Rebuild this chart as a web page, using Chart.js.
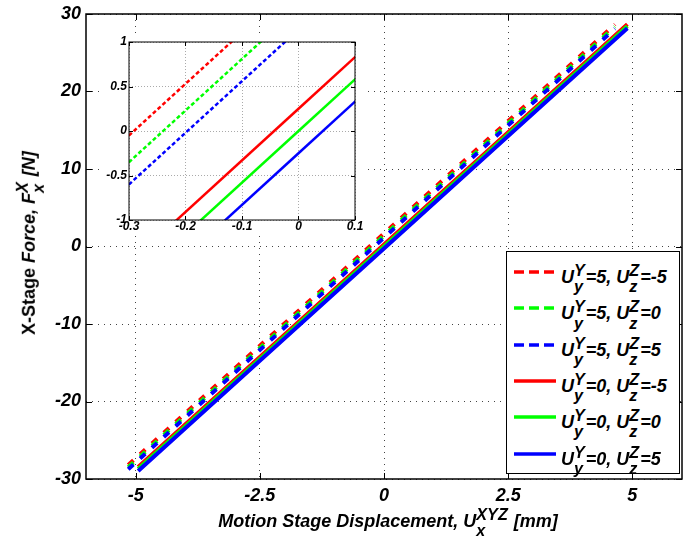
<!DOCTYPE html>
<html>
<head>
<meta charset="utf-8">
<script src="https://cdn.jsdelivr.net/npm/chart.js@4"></script>
<style>
body { margin: 0; background: #fff; font-family: 'Liberation Sans', Arial, sans-serif; }
#wrap { position: relative; width: 692px; height: 539px; overflow: hidden; }
#main { position: absolute; left: 0; top: 0; }
#insetBox { position: absolute; left: 100px; top: 33px; width: 265px; height: 201px; background: #fff; }
#legend { position: absolute; left: 506px; top: 251px; width: 172px; height: 221px; border: 1px solid #000; background: #fff; }
.row { position: absolute; left: 0; width: 172px; height: 36px; }
.row svg { position: absolute; left: 7px; top: 15px; }
.row .lbl { position: absolute; left: 54px; top: 8px; font: italic bold 18px 'Liberation Sans', Arial, sans-serif; line-height: 20px; white-space: nowrap; }
.ss { display: inline-flex; flex-direction: column; vertical-align: middle; font-size: 0.9em; line-height: 1em; margin-right: 1px; }
#xTitle { position: absolute; left: 388px; top: 506px; transform: translateX(-50%); font: italic bold 18px 'Liberation Sans', Arial, sans-serif; white-space: nowrap; line-height: 20px; }
#yTitle { position: absolute; left: 30px; top: 243px; transform: translate(-50%, -50%) rotate(-90deg); font: bold 18px 'Liberation Sans', Arial, sans-serif; white-space: nowrap; line-height: 20px; }
#yTitle i { font-style: italic; }
</style>
</head>
<body>
<div id="wrap">
  <canvas id="main" width="692" height="539"></canvas>
  <div id="insetBox"><canvas id="inset" width="265" height="201"></canvas></div>
  <div id="legend"></div>
  <div id="xTitle">Motion Stage Displacement, U<span class="ss"><span>XYZ</span><span>x</span></span> [mm]</div>
  <div id="yTitle">X-Stage <i>Force, F<span class="ss"><span>X</span><span>x</span></span> [N]</i></div>
</div>
<script>
// displacement samples (mm)
const xSolid = [-4.95, -2.5, 0, 2.5, 4.9];
const xDashed = [-5.15, -2.5, 0, 2.5, 4.65];

// force (N), Uy=0
const fY0Zm5 = [-28.46, -14.25, 0.25, 14.75, 28.67];
const fY0Z0 = [-28.71, -14.5, 0, 14.5, 28.42];
const fY0Z5 = [-28.96, -14.75, -0.25, 14.25, 28.17];
// force (N), Uy=5
const fY5Zm5 = [-28.18, -12.81, 1.69, 16.19, 28.66];
const fY5Z0 = [-28.48, -13.11, 1.39, 15.89, 28.36];
const fY5Z5 = [-28.73, -13.36, 1.14, 15.64, 28.11];

const xTicks = [-5, -2.5, 0, 2.5, 5];
const yTicks = [-30, -20, -10, 0, 10, 20, 30];
const insetXTicks = [-0.3, -0.2, -0.1, 0, 0.1];
const insetYTicks = [-1, -0.5, 0, 0.5, 1];

const legendUy = [5, 5, 5, 0, 0, 0];
const legendUz = [-5, 0, 5, -5, 0, 5];
const legendColors = ['#ff0000', '#00ff00', '#0000ff', '#ff0000', '#00ff00', '#0000ff'];
const legendDashed = [true, true, true, false, false, false];

const pts = (xs, ys) => xs.map((x, i) => ({ x: x, y: ys[i] }));

// blue first so it is painted on top, like the original
function makeSets(width, dash) {
  const line = (xs, ys, color, d) => ({
    data: pts(xs, ys), borderColor: color, borderWidth: width,
    borderDash: d, pointRadius: 0, clip: 0, tension: 0
  });
  return [
    line(xSolid, fY0Z5, '#0000ff', []),
    line(xSolid, fY0Z0, '#00ff00', []),
    line(xSolid, fY0Zm5, '#ff0000', []),
    line(xDashed, fY5Z5, '#0000ff', dash),
    line(xDashed, fY5Z0, '#00ff00', dash),
    line(xDashed, fY5Zm5, '#ff0000', dash)
  ];
}

// box around the axes plus inward tick marks on all four sides
const frame = {
  id: 'frame',
  afterDraw(chart, args, opts) {
    const { ctx, chartArea: a, scales: { x, y } } = chart;
    ctx.save();
    ctx.strokeStyle = '#000';
    ctx.lineWidth = opts.width;
    ctx.strokeRect(a.left, a.top, a.right - a.left, a.bottom - a.top);
    ctx.lineWidth = 1;
    ctx.beginPath();
    x.ticks.forEach(t => {
      const px = Math.round(x.getPixelForValue(t.value)) + 0.5;
      ctx.moveTo(px, a.bottom); ctx.lineTo(px, a.bottom - opts.len);
      ctx.moveTo(px, a.top); ctx.lineTo(px, a.top + opts.len);
    });
    y.ticks.forEach(t => {
      const py = Math.round(y.getPixelForValue(t.value)) + 0.5;
      ctx.moveTo(a.left, py); ctx.lineTo(a.left + opts.len, py);
      ctx.moveTo(a.right, py); ctx.lineTo(a.right - opts.len, py);
    });
    ctx.stroke();
    ctx.restore();
  }
};

function axis(min, max, ticks, fit, font, pad, gridColor, dash) {
  return {
    type: 'linear', min: min, max: max,
    afterBuildTicks: s => { s.ticks = ticks.map(v => ({ value: v })); },
    afterFit: fit,
    grid: { color: gridColor, drawTicks: false },
    border: { display: false, dash: dash },
    ticks: { padding: pad, color: '#000', font: font, callback: v => String(v) }
  };
}

const mainFont = { family: "'Liberation Sans', Arial, sans-serif", size: 18, style: 'italic', weight: 'bold', lineHeight: 1 };
const insetFont = { family: "'Liberation Sans', Arial, sans-serif", size: 12, style: 'italic', weight: 'bold', lineHeight: 1 };

new Chart(document.getElementById('main'), {
  type: 'line',
  data: { datasets: makeSets(4, [7, 9]) },
  options: {
    responsive: false,
    animation: false,
    layout: { padding: { left: 0, top: 10, right: 10, bottom: 0 } },
    plugins: { legend: { display: false }, tooltip: { enabled: false }, frame: { width: 1.5, len: 6 } },
    scales: {
      x: axis(-6, 6, xTicks, s => { s.height = 60; }, mainFont, 8, '#444', [1, 5]),
      y: axis(-30, 30, yTicks, s => { s.width = 86; }, mainFont, 5, '#444', [1, 5])
    }
  },
  plugins: [frame]
});

new Chart(document.getElementById('inset'), {
  type: 'line',
  data: { datasets: makeSets(2.5, [4, 2.5]) },
  options: {
    responsive: false,
    animation: false,
    layout: { padding: { left: 0, top: 9, right: 10, bottom: 0 } },
    plugins: { legend: { display: false }, tooltip: { enabled: false }, frame: { width: 1, len: 4 } },
    scales: {
      x: axis(-0.3, 0.1, insetXTicks, s => { s.height = 14; }, insetFont, 1, '#aaa', [1, 2]),
      y: axis(-1, 1, insetYTicks, s => { s.width = 29; }, insetFont, 2, '#aaa', [1, 2])
    }
  },
  plugins: [frame]
});

// legend with sub/superscripts
const legend = document.getElementById('legend');
legendUy.forEach((uy, i) => {
  const row = document.createElement('div');
  row.className = 'row';
  row.style.top = (2 + i * 36.3) + 'px';
  const dash = legendDashed[i] ? ' stroke-dasharray="10,5"' : '';
  row.innerHTML =
    '<svg width="44" height="6"><line x1="0" y1="3" x2="42" y2="3" stroke="' + legendColors[i] +
    '" stroke-width="3.5"' + dash + '/></svg>' +
    '<span class="lbl">U<span class="ss"><span>Y</span><span>y</span></span>=' + uy +
    ', U<span class="ss"><span>Z</span><span>z</span></span>=' + legendUz[i] + '</span>';
  legend.appendChild(row);
});
</script>
</body>
</html>
